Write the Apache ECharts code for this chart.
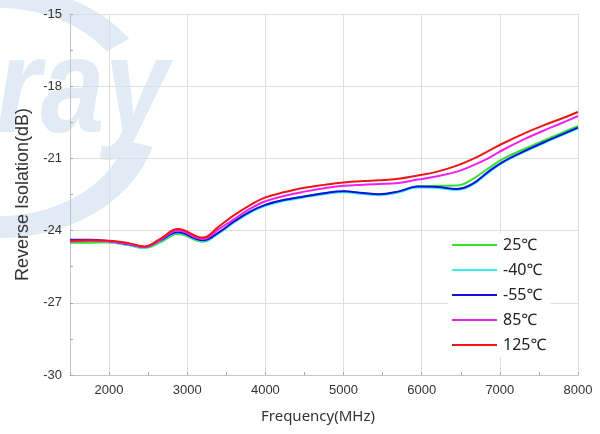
<!DOCTYPE html>
<html>
<head>
<meta charset="utf-8">
<script src="https://cdn.jsdelivr.net/npm/echarts@6/dist/echarts.min.js"></script>
<style>
  html, body { margin: 0; padding: 0; background: #fff; }
  #chart { width: 600px; height: 434px; }
</style>
</head>
<body>
<div id="chart"></div>
<script>
// Frequency sweep points (MHz)
const freqs = [1500, 1750, 2000, 2250, 2450, 2650, 2880, 3200, 3400, 3600, 3800, 4000, 4250, 4500, 4750, 5000, 5250, 5450, 5700, 5950, 6200, 6450, 6650, 6850, 7050, 7300, 7550, 7800, 8000];

// Reverse isolation (dB) per temperature
const t25  = [-24.50, -24.50, -24.49, -24.60, -24.72, -24.50, -24.14, -24.46, -24.10, -23.62, -23.22, -22.93, -22.72, -22.58, -22.45, -22.38, -22.45, -22.50, -22.38, -22.16, -22.14, -22.13, -21.86, -21.42, -21.00, -20.63, -20.27, -19.93, -19.66];
const tm40 = [-24.42, -24.42, -24.47, -24.60, -24.71, -24.45, -24.10, -24.43, -24.12, -23.66, -23.26, -22.97, -22.76, -22.62, -22.49, -22.41, -22.48, -22.53, -22.42, -22.21, -22.23, -22.31, -22.10, -21.60, -21.16, -20.75, -20.38, -20.03, -19.76];
const tm55 = [-24.38, -24.38, -24.44, -24.57, -24.68, -24.42, -24.07, -24.40, -24.08, -23.62, -23.22, -22.93, -22.72, -22.58, -22.45, -22.37, -22.44, -22.49, -22.38, -22.17, -22.19, -22.27, -22.06, -21.56, -21.12, -20.72, -20.35, -20.00, -19.72];
const t85  = [-24.45, -24.42, -24.45, -24.56, -24.68, -24.40, -24.00, -24.35, -23.95, -23.52, -23.10, -22.78, -22.55, -22.38, -22.24, -22.14, -22.09, -22.06, -22.02, -21.88, -21.74, -21.55, -21.30, -21.00, -20.63, -20.22, -19.86, -19.52, -19.24];
const t125 = [-24.42, -24.40, -24.42, -24.52, -24.66, -24.35, -23.93, -24.29, -23.84, -23.36, -22.95, -22.62, -22.40, -22.22, -22.10, -22.00, -21.94, -21.91, -21.85, -21.71, -21.55, -21.30, -21.03, -20.70, -20.36, -19.98, -19.64, -19.33, -19.07];

const seriesNames = ['25℃', '-40℃', '-55℃', '85℃', '125℃'];
const seriesData = [t25, tm40, tm55, t85, t125];
const seriesColors = ['#2fe32f', '#3cefef', '#1010e0', '#ee22ee', '#ee1515'];

const yTicks = [-30, -27, -24, -21, -18, -15];

const chart = echarts.init(document.getElementById('chart'), null, { renderer: 'canvas' });

const labelFont = 'Liberation Sans, Arial, sans-serif';
const cjkFont = 'Noto Sans, Noto Sans CJK SC, sans-serif';
const markTint = '#e0ebf5';

chart.setOption({
  animation: false,
  backgroundColor: '#fff',
  graphic: [
    // faint brand watermark behind the plot
    {
      type: 'arc', z: -10, silent: true,
      x: 0, y: 112, scaleX: 1.26, scaleY: 1,
      shape: { cx: 0, cy: 0, r: 115, startAngle: -1.75, endAngle: -0.62 },
      style: { stroke: markTint, lineWidth: 22, fill: 'none' }
    },
    {
      type: 'arc', z: -10, silent: true,
      x: 0, y: 112, scaleX: 1.26, scaleY: 1,
      shape: { cx: 0, cy: 0, r: 115, startAngle: 0.28, endAngle: 1.75 },
      style: { stroke: markTint, lineWidth: 22, fill: 'none' }
    },
    {
      type: 'text', z: -10, silent: true, x: -4, y: 162, scaleX: 0.85,
      style: {
        text: 'ray', font: 'italic bold 135px Liberation Sans',
        fill: markTint, verticalAlign: 'bottom'
      }
    }
  ],
  grid: { left: 70, right: 22, top: 14, bottom: 59, containLabel: false },
  legend: {
    orient: 'vertical',
    left: 448,
    top: 233,
    padding: [4, 4, 4, 4],
    backgroundColor: '#fff',
    itemWidth: 45,
    itemHeight: 2,
    itemGap: 9,
    icon: 'rect',
    textStyle: { fontFamily: cjkFont, fontSize: 16, lineHeight: 16, color: '#222', padding: [0, 0, 0, 1] },
    data: seriesNames
  },
  xAxis: [
    {
      type: 'value',
      min: 1500,
      max: 8000,
      splitNumber: 7,
      name: 'Frequency(MHz)',
      nameLocation: 'middle',
      nameGap: 34,
      nameTextStyle: { fontFamily: cjkFont, fontSize: 15, color: '#333', padding: [0, 12, 0, 0] },
      axisLine: { show: true, onZero: false, lineStyle: { color: '#c4c4c4', width: 1 } },
      axisTick: { show: false },
      axisLabel: {
        margin: 9, fontFamily: labelFont, fontSize: 13, color: '#333',
        formatter: v => (v % 1000 === 0 ? String(v) : '')
      },
      splitLine: { show: true, lineStyle: { color: '#dedede', width: 1 } }
    },
    {
      // tick marks every 500 MHz along the bottom edge
      type: 'value',
      min: 1500,
      max: 8000,
      interval: 500,
      position: 'bottom',
      axisLine: { show: false },
      axisTick: { show: true, inside: true, length: 3, lineStyle: { color: '#a8a8a8' } },
      axisLabel: { show: false },
      splitLine: { show: false }
    }
  ],
  yAxis: {
    type: 'value',
    min: yTicks[0],
    max: yTicks[yTicks.length - 1],
    interval: 3,
    name: 'Reverse Isolation(dB)',
    nameLocation: 'middle',
    nameGap: 34,
    nameTextStyle: { fontFamily: labelFont, fontSize: 18, color: '#333' },
    axisLine: { show: true, onZero: false, lineStyle: { color: '#c4c4c4', width: 1 } },
    axisTick: { show: true, inside: true, length: 3, lineStyle: { color: '#a8a8a8' } },
    minorTick: { show: true, splitNumber: 2, length: 3, lineStyle: { color: '#a8a8a8' } },
    axisLabel: { margin: 8, fontFamily: labelFont, fontSize: 13, color: '#333' },
    splitLine: { show: true, lineStyle: { color: '#dedede', width: 1 } }
  },
  series: seriesNames.map((name, i) => ({
    name: name,
    type: 'line',
    xAxisIndex: 0,
    smooth: 0.4,
    showSymbol: false,
    symbol: 'none',
    color: seriesColors[i],
    lineStyle: { width: 2, color: seriesColors[i] },
    data: freqs.map((f, k) => [f, seriesData[i][k]])
  }))
});
</script>
</body>
</html>
